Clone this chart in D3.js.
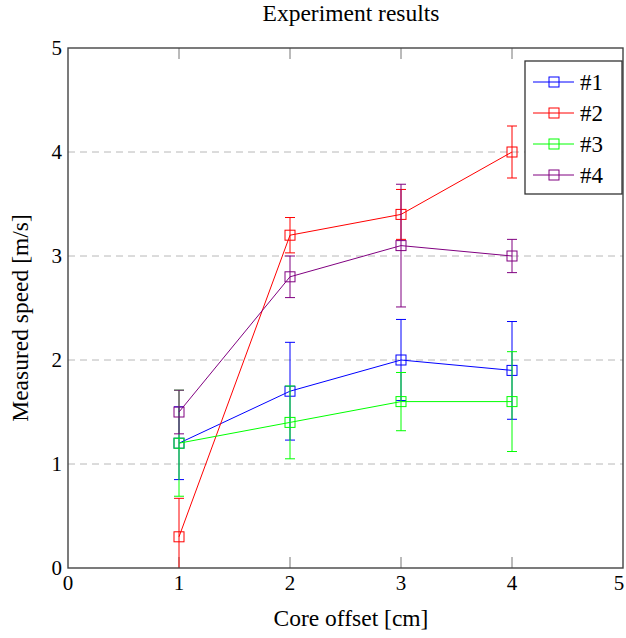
<!DOCTYPE html>
<html>
<head>
<meta charset="utf-8">
<script src="https://cdn.jsdelivr.net/npm/d3@7"></script>
<style>
html,body{margin:0;padding:0;background:#fff;}
svg{display:block;}
</style>
</head>
<body>
<svg id="chart" width="626" height="638" font-family="'Liberation Serif', 'DejaVu Serif', serif"></svg>
<script>
const xValues = [1, 2, 3, 4];
const seriesNames = ["#1", "#2", "#3", "#4"];
const seriesColors = ["#0000ff", "#ff0000", "#00ff00", "#800080"];
const s1 = [1.2, 1.7, 2.0, 1.9];
const s1err = [0.35, 0.47, 0.39, 0.47];
const s2 = [0.3, 3.2, 3.4, 4.0];
const s2err = [0.37, 0.17, 0.24, 0.25];
const s3 = [1.2, 1.4, 1.6, 1.6];
const s3err = [0.51, 0.35, 0.28, 0.48];
const s4 = [1.5, 2.8, 3.1, 3.0];
const s4err = [0.21, 0.2, 0.59, 0.16];
const xTicks = [0, 1, 2, 3, 4, 5];
const yTicks = [0, 1, 2, 3, 4, 5];
const gridTicks = [1, 2, 3, 4];

(function () {
const FONT = "'Liberation Serif', 'DejaVu Serif', serif";
const values = [s1, s2, s3, s4];
const errors = [s1err, s2err, s3err, s4err];

const svg = d3.select("#chart");
const pL = 68, pR = 623, pT = 48, pB = 568;
const x = d3.scaleLinear().domain([0, 5]).range([pL, pR]);
const y = d3.scaleLinear().domain([0, 5]).range([pB, pT]);

svg.append("defs").append("clipPath").attr("id", "clip")
  .append("rect").attr("x", pL).attr("y", pT).attr("width", pR - pL).attr("height", pB - pT);

// grid
svg.append("g").selectAll("line").data(gridTicks).join("line")
  .attr("x1", pL).attr("x2", pR)
  .attr("y1", d => y(d)).attr("y2", d => y(d))
  .attr("stroke", "#b8b8b8").attr("stroke-width", 1).attr("stroke-dasharray", "7,5");

// x ticks top & bottom (inside)
const tl = 11;
svg.append("g").selectAll("line").data(gridTicks).join("line")
  .attr("x1", d => x(d)).attr("x2", d => x(d))
  .attr("y1", pB).attr("y2", pB - tl)
  .attr("stroke", "#777").attr("stroke-width", 1);
svg.append("g").selectAll("line").data(gridTicks).join("line")
  .attr("x1", d => x(d)).attr("x2", d => x(d))
  .attr("y1", pT).attr("y2", pT + tl)
  .attr("stroke", "#777").attr("stroke-width", 1);

// series
const plot = svg.append("g").attr("clip-path", "url(#clip)");
const ms = 10, cap = 5;
values.forEach((vals, i) => {
  const col = seriesColors[i];
  const g = plot.append("g");
  const pts = xValues.map((xv, j) => ({x: xv, y: vals[j], e: errors[i][j]}));
  const eb = g.append("g").attr("stroke", col).attr("stroke-width", 1).attr("fill", "none");
  pts.forEach(p => {
    eb.append("line").attr("x1", x(p.x)).attr("x2", x(p.x)).attr("y1", y(p.y - p.e)).attr("y2", y(p.y + p.e));
    eb.append("line").attr("x1", x(p.x) - cap).attr("x2", x(p.x) + cap).attr("y1", y(p.y + p.e)).attr("y2", y(p.y + p.e));
    eb.append("line").attr("x1", x(p.x) - cap).attr("x2", x(p.x) + cap).attr("y1", y(p.y - p.e)).attr("y2", y(p.y - p.e));
  });
  g.append("path").datum(pts)
    .attr("d", d3.line().x(d => x(d.x)).y(d => y(d.y)))
    .attr("fill", "none").attr("stroke", col).attr("stroke-width", 1);
  g.selectAll("rect.m").data(pts).join("rect").attr("class", "m")
    .attr("x", d => x(d.x) - ms / 2).attr("y", d => y(d.y) - ms / 2)
    .attr("width", ms).attr("height", ms)
    .attr("fill", "none").attr("stroke", col).attr("stroke-width", 1);
});

// axis frame
svg.append("rect").attr("x", pL).attr("y", pT).attr("width", pR - pL).attr("height", pB - pT)
  .attr("fill", "none").attr("stroke", "#444").attr("stroke-width", 1.4);

function txt(sel) { return sel.attr("font-family", FONT).attr("fill", "#000"); }

// tick labels
txt(svg.append("g").selectAll("text").data(xTicks).join("text"))
  .attr("x", d => Math.min(x(d), 619)).attr("y", pB + 22)
  .attr("text-anchor", "middle").attr("font-size", 21).text(d => d);
txt(svg.append("g").selectAll("text").data(yTicks).join("text"))
  .attr("x", pL - 6).attr("y", d => y(d) + 7)
  .attr("text-anchor", "end").attr("font-size", 21).text(d => d);

// titles
txt(svg.append("text")).attr("x", 351).attr("y", 21).attr("text-anchor", "middle")
  .attr("font-size", 23.5).text("Experiment results");
txt(svg.append("text")).attr("x", 351).attr("y", 626).attr("text-anchor", "middle")
  .attr("font-size", 23.5).text("Core offset [cm]");
txt(svg.append("text")).attr("transform", "translate(28,318) rotate(-90)").attr("text-anchor", "middle")
  .attr("font-size", 23.5).text("Measured speed [m/s]");

// legend
const lg = svg.append("g");
lg.append("rect").attr("x", 525).attr("y", 61).attr("width", 97).attr("height", 133)
  .attr("fill", "#fff").attr("stroke", "#333").attr("stroke-width", 1.3);
seriesNames.forEach((n, i) => {
  const ry = 82 + i * 31;
  lg.append("line").attr("x1", 533).attr("x2", 574).attr("y1", ry).attr("y2", ry)
    .attr("stroke", seriesColors[i]).attr("stroke-width", 1);
  lg.append("rect").attr("x", 554 - ms / 2).attr("y", ry - ms / 2).attr("width", ms).attr("height", ms)
    .attr("fill", "none").attr("stroke", seriesColors[i]).attr("stroke-width", 1);
  txt(lg.append("text")).attr("x", 580).attr("y", ry + 8).attr("font-size", 23).text(n);
});
})();
</script>
</body>
</html>
